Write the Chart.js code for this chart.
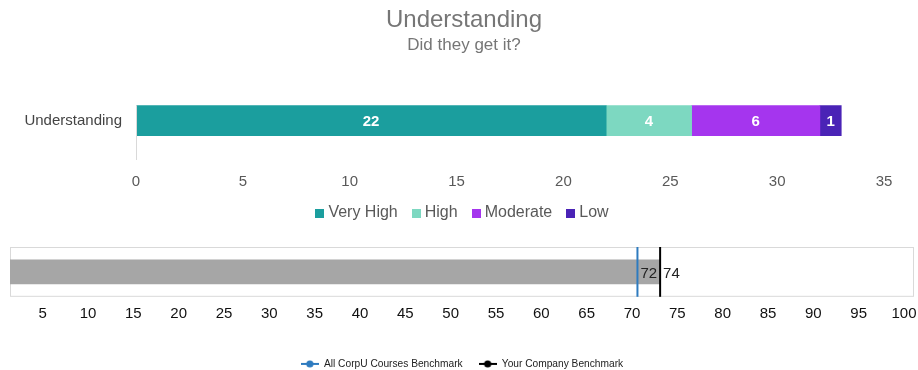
<!DOCTYPE html>
<html>
<head>
<meta charset="utf-8">
<script src="https://cdn.jsdelivr.net/npm/chart.js@4.4.1/dist/chart.umd.min.js"></script>
<style>
  html, body { margin: 0; padding: 0; background: #fff; overflow: hidden; }
  .wrap { position: relative; width: 918px; }
  #topBox { height: 235px; }
  #bottomBox { height: 144px; }
</style>
</head>
<body>
<div class="wrap" id="topBox"><canvas id="ratingChart"></canvas></div>
<div class="wrap" id="bottomBox"><canvas id="benchChart"></canvas></div>
<script>
const FONT = "'Liberation Sans', Arial, sans-serif";

// top chart data
const categories = ["Understanding"];
const ratingNames = ["Very High", "High", "Moderate", "Low"];
const ratingCounts = [22, 4, 6, 1];
const ratingColors = ["#1b9e9e", "#7dd8c1", "#a535ee", "#4a23b6"];

// bottom chart data
const scoreValue = [73.1];
const benchmarkNames = ["All CorpU Courses Benchmark", "Your Company Benchmark"];
const benchmarkValues = [70.6, 73.1];
const benchmarkLabels = ["72", "74"];
const benchmarkColors = ["#2e7bbf", "#000000"];
const scoreTicks = [5, 10, 15, 20, 25, 30, 35, 40, 45, 50, 55, 60, 65, 70, 75, 80, 85, 90, 95, 100];

// little legend swatches
function squareImage(color) {
    const c = document.createElement("canvas");
    c.width = 9;
    c.height = 9;
    const g = c.getContext("2d");
    g.fillStyle = color;
    g.fillRect(0, 0, 9, 9);
    return c;
}

function markerImage(color) {
    const c = document.createElement("canvas");
    c.width = 18;
    c.height = 8;
    const g = c.getContext("2d");
    g.strokeStyle = color;
    g.lineWidth = 2;
    g.beginPath();
    g.moveTo(0, 4);
    g.lineTo(18, 4);
    g.stroke();
    g.fillStyle = color;
    g.beginPath();
    g.arc(9, 4, 3.6, 0, Math.PI * 2);
    g.fill();
    return c;
}

const segmentLabels = {
    id: "segmentLabels",
    afterDatasetsDraw(chart) {
        const ctx = chart.ctx;
        ctx.save();
        ctx.font = "bold 15px " + FONT;
        ctx.fillStyle = "#ffffff";
        ctx.textAlign = "center";
        ctx.textBaseline = "middle";
        chart.data.datasets.forEach((ds, i) => {
            chart.getDatasetMeta(i).data.forEach((bar, j) => {
                const x = (bar.x + bar.base) / 2;
                ctx.fillText(String(ds.data[j]), x, bar.y + 1);
            });
        });
        // category axis line, runs a bit below the bar
        const a = chart.chartArea;
        ctx.strokeStyle = "#d9d9d9";
        ctx.lineWidth = 1;
        ctx.beginPath();
        ctx.moveTo(a.left + 0.5, a.top);
        ctx.lineTo(a.left + 0.5, a.bottom + 24);
        ctx.stroke();
        ctx.restore();
    }
};

new Chart(document.getElementById("ratingChart"), {
    type: "bar",
    data: {
        labels: categories,
        datasets: ratingNames.map((name, i) => ({
            label: name,
            data: [ratingCounts[i]],
            backgroundColor: ratingColors[i],
            borderWidth: 0,
            categoryPercentage: 1,
            barPercentage: 1,
            pointStyle: squareImage(ratingColors[i])
        }))
    },
    options: {
        indexAxis: "y",
        responsive: true,
        maintainAspectRatio: false,
        animation: false,
        layout: { padding: { left: 10, right: 0, bottom: 4, top: 0 } },
        plugins: {
            title: {
                display: true,
                text: "Understanding",
                color: "#767676",
                font: { family: FONT, size: 24, weight: "normal" },
                padding: { top: 6, bottom: 0 }
            },
            subtitle: {
                display: true,
                text: "Did they get it?",
                color: "#767676",
                font: { family: FONT, size: 17 },
                padding: { top: 0, bottom: 50 }
            },
            legend: {
                position: "bottom",
                labels: {
                    usePointStyle: true,
                    boxWidth: 1,
                    padding: 18,
                    color: "#595959",
                    font: { family: FONT, size: 16 }
                }
            },
            tooltip: { enabled: false }
        },
        scales: {
            x: {
                stacked: true,
                min: 0,
                max: 35,
                ticks: { stepSize: 5, color: "#595959", font: { family: FONT, size: 15 }, padding: 37 },
                grid: { display: false, drawTicks: false },
                border: { display: false },
                afterFit: s => { s.height = 51; s.paddingLeft = 0; s.paddingRight = 34; }
            },
            y: {
                stacked: true,
                ticks: { color: "#444444", font: { family: FONT, size: 15 }, padding: 14 },
                grid: { display: false, drawTicks: false },
                border: { display: false },
                afterFit: s => { s.width = 126; }
            }
        }
    },
    plugins: [segmentLabels]
});

const benchLabels = {
    id: "benchLabels",
    beforeDatasetsDraw(chart) {
        const a = chart.chartArea;
        const ctx = chart.ctx;
        ctx.save();
        ctx.strokeStyle = "#d9d9d9";
        ctx.lineWidth = 1;
        ctx.strokeRect(a.left + 0.5, a.top + 0.5, a.width - 1, a.height - 1);
        ctx.restore();
    },
    afterDatasetsDraw(chart) {
        const ctx = chart.ctx;
        const xs = chart.scales.x;
        const ys = chart.scales.y;
        ctx.save();
        ctx.font = "15px " + FONT;
        ctx.fillStyle = "#222222";
        ctx.textAlign = "left";
        ctx.textBaseline = "middle";
        benchmarkValues.forEach((v, i) => {
            ctx.fillText(benchmarkLabels[i], xs.getPixelForValue(v) + 3, ys.getPixelForValue(0.5) + 2);
        });
        ctx.restore();
    }
};

new Chart(document.getElementById("benchChart"), {
    type: "bar",
    data: {
        datasets: [
            {
                label: "Score",
                data: [{ x: scoreValue[0], y: 0.5 }],
                backgroundColor: "#a6a6a6",
                borderWidth: 0,
                barThickness: 24,
                order: 2
            },
            ...benchmarkNames.map((name, i) => ({
                type: "line",
                indexAxis: "x",
                label: name,
                data: [{ x: benchmarkValues[i], y: 0 }, { x: benchmarkValues[i], y: 1 }],
                borderColor: benchmarkColors[i],
                backgroundColor: benchmarkColors[i],
                borderWidth: 2,
                pointRadius: 0,
                pointStyle: markerImage(benchmarkColors[i]),
                clip: false,
                order: 1
            }))
        ]
    },
    options: {
        indexAxis: "y",
        responsive: true,
        maintainAspectRatio: false,
        animation: false,
        layout: { padding: { left: 10, right: 4, top: 12, bottom: 0 } },
        plugins: {
            legend: {
                position: "bottom",
                labels: {
                    usePointStyle: true,
                    pointStyleWidth: 18,
                    padding: 16,
                    color: "#222222",
                    font: { family: FONT, size: 10.2 },
                    filter: item => item.datasetIndex > 0
                }
            },
            tooltip: { enabled: false }
        },
        scales: {
            x: {
                type: "linear",
                min: 1.4,
                max: 101.1,
                afterBuildTicks: s => { s.ticks = scoreTicks.map(v => ({ value: v })); },
                ticks: { color: "#111111", font: { family: FONT, size: 15 }, padding: 8 },
                grid: { display: false, drawTicks: false },
                border: { display: false },
                afterFit: s => { s.height = 46; s.paddingLeft = 0; s.paddingRight = 0; }
            },
            y: {
                type: "linear",
                min: 0,
                max: 1,
                offset: false,
                display: false
            }
        }
    },
    plugins: [benchLabels]
});
</script>
</body>
</html>
